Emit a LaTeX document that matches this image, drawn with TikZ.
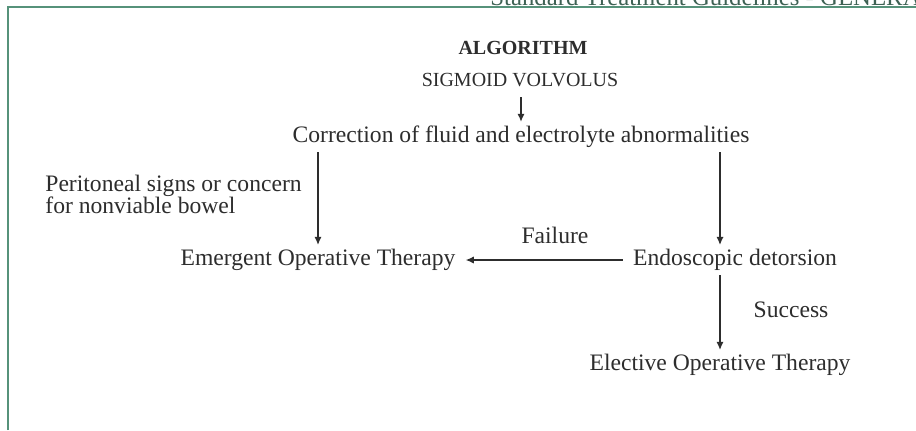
\documentclass[tikz,border=0pt]{standalone}
\usepackage{fontspec}
\setmainfont{Liberation Serif}
\usepackage{xcolor}
\usetikzlibrary{arrows.meta}
\definecolor{framegreen}{RGB}{86,146,122}
\definecolor{headgreen}{RGB}{62,98,84}
\definecolor{inkgray}{RGB}{45,45,45}

\begin{document}
\begin{tikzpicture}[x=0.5pt,y=-0.5pt,
  txt/.style={text=inkgray,font=\fontsize{11.8}{11}\selectfont,inner sep=2pt},
  caps/.style={text=inkgray,font=\fontsize{10}{12}\selectfont,inner sep=2pt},
  arr/.style={draw=inkgray,line width=0.6pt,-{Latex[length=4pt,width=3.6pt]}}]
\useasboundingbox (0,0) rectangle (916,430);
\fill[white] (0,0) rectangle (916,430);
% page frame and running head
\draw[framegreen,line width=1.1pt] (8,430) -- (8,7) -- (916,7);
\node[anchor=base west,inner sep=0pt,text=headgreen,font=\fontsize{12.4}{14}\selectfont] (head) at (490,5) {Standard Treatment Guidelines - GENERAL};

% Algorithm
\node[caps,font=\fontsize{10}{12}\selectfont\bfseries] (title) at (523,48) {ALGORITHM};
\node[caps] (volv) at (520,80) {SIGMOID VOLVOLUS};
\node[txt] (corr) at (521,137) {Correction of fluid and electrolyte abnormalities};
\node[txt,align=left,anchor=west] (peri) at (41,194) {Peritoneal signs or concern\\for nonviable bowel};
\node[txt] (emer) at (318,260) {Emergent Operative Therapy};
\node[txt] (endo) at (735,260) {Endoscopic detorsion};
\node[txt] (fail) at (555,235) {Failure};
\node[txt] (succ) at (791,310) {Success};
\node[txt] (elec) at (720,365) {Elective Operative Therapy};

\draw[arr] ([yshift=-3pt]volv.south -| corr.north) -- (corr.north);
\draw[arr] (corr.south -| emer.north) -- (emer.north);
\draw[arr] (corr.south -| elec.north) -- (endo.north -| elec.north);
\draw[arr] ([xshift=-3pt]endo.west) -- ([xshift=3pt]emer.east);
\draw[arr] (endo.south -| elec.north) -- (elec.north);
\end{tikzpicture}
\end{document}
